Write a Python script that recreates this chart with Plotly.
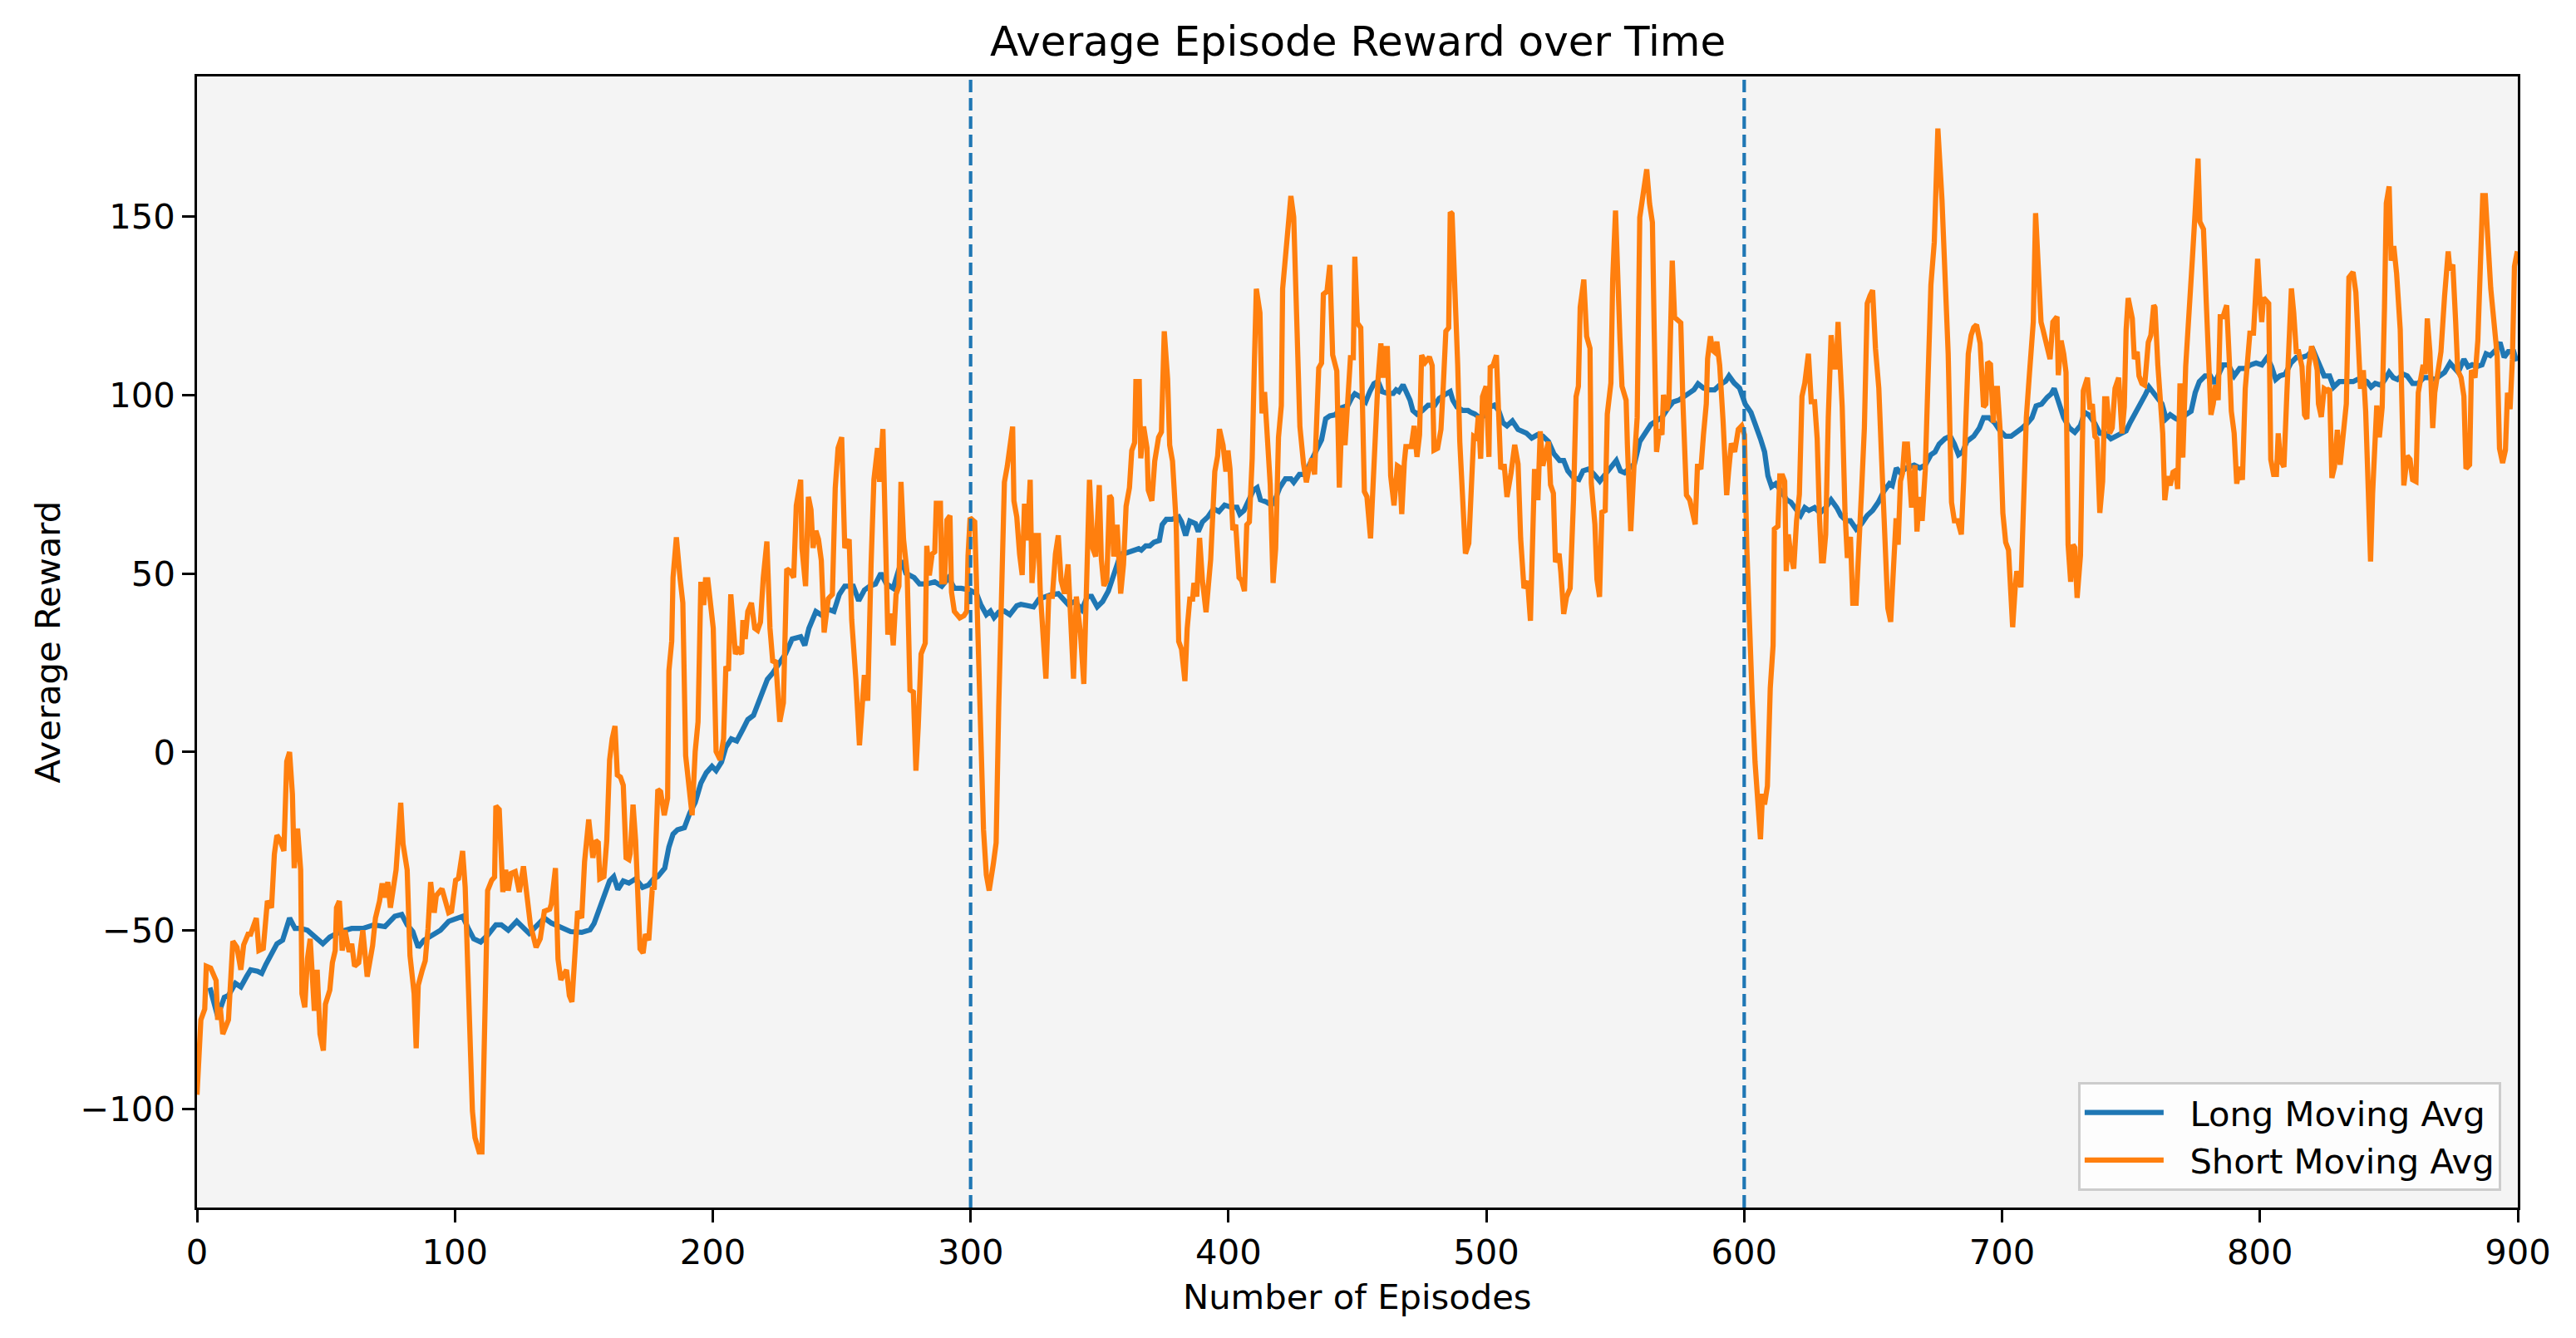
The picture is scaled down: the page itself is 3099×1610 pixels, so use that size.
import plotly.graph_objects as go

# ---------------- data ----------------
short_episodes = [
    0, 1.5, 3, 3.6, 5.3, 7.4, 8, 9, 10, 12.2, 13.9, 15.5, 17, 18.1, 19.8, 20.8, 23, 24, 25.7, 27.3,
    28.9, 30, 31, 32, 33.7, 34.8, 35.9, 37, 37.7, 39, 40.2, 40.7, 41.8, 42.8, 43.9, 45, 45.5, 46.6,
    47.7, 49, 49.8, 51.5, 52.5, 53.6, 54.1, 55.2, 56.3, 57.4, 59, 60, 61.1, 62.7, 64.3, 66, 68.1,
    69.2, 70.8, 71.8, 72.9, 74, 75, 77.2, 78.3, 79, 79.9, 81.5, 82.6, 84.2, 85, 85.8, 87.4, 88.5,
    89.6, 90.6, 92, 92.8, 95, 96.5, 97.6, 98.7, 100.3, 101.4, 103, 104, 105.2, 106.8, 107.8, 109.4,
    110.5, 111.6, 112.7, 114.3, 115.4, 115.9, 117.2, 118.6, 119.7, 120.7, 121.8, 123.4, 125, 126.6,
    128.2, 129.3, 131.5, 133.1, 134.7, 136.8, 137.4, 139, 140, 141.1, 143.3, 144.4, 145.4, 146.5,
    147.6, 149.2,
    150.3, 151.9, 153.5, 154.6, 155.6, 156.2, 157.8, 158.9, 160, 161, 162.1, 163, 164.2, 165.3,
    166.4, 167.5, 168, 169.1, 170.1, 171.8, 173, 173.9, 175.2, 176.6, 177.3, 178.7, 179.8, 181.2,
    182.5, 183, 184.1, 184.6, 185.9, 187.3, 188.4, 189.5, 190.6, 192, 193.2, 194.3, 195.4, 196.5,
    197.2, 198.1, 200.2, 201.3, 202.9, 204.2, 205.1, 206.1, 207, 208.8, 209.9, 211.2, 211.7, 212.6,
    213.6, 215, 216.3, 217.4, 218.5, 219.6, 221, 222.2, 223.3, 224.4, 226, 227.4, 228.7, 230, 231.4,
    232.4, 234.1, 234.6, 236, 237.1, 238.1, 238.9, 240, 241, 242.1, 243.2, 244.8, 246.4, 247.5,
    248.6, 250, 251.2, 252.9, 253.9, 255.5, 256.9, 258.8, 260.1, 261.4, 262.5, 263.9, 264.7, 266,
    266.8, 267.9, 269, 270, 271.1, 272.2, 273, 274, 275.4, 276.5, 277.8, 278.8, 279.7, 280.8, 282.4,
    283, 284, 285.1, 286.1, 286.7, 288.3, 288.8, 289.9, 290.8, 292, 292.6, 293.7, 295.8, 297.4,
    298.5, 299, 299.8,
    301.6, 302.9, 304, 305, 306.1, 307.2, 308.8, 309.9, 310.9, 312, 313.1, 314.2, 315.2, 316.3,
    316.8, 317.9, 319, 320, 320.9, 322, 323.1, 323.8, 325.2, 326.3, 327, 328.1, 329.2, 330.3, 331.7,
    332.9, 334, 335.1, 336.4, 337.8, 338.9, 339.9, 341, 342.6, 343.9, 345, 346.1, 347.4, 348.5,
    349.9, 350.7, 351.7, 352.8, 353.9, 354.6, 355.5, 356.8, 358.2, 359.3, 360.3, 361.6, 362.5,
    363.6, 364.1, 365.4, 366, 367.1, 368.4, 368.9, 370.3, 371.4, 372.9, 374, 375.1, 376.4, 377.2,
    378.3, 379.7, 380.7, 381.8, 383.1, 384, 385, 386.1, 386.6, 387.7, 388.8, 389.9, 391.3, 393.1,
    394.7, 395.8, 396.5, 397.9, 399, 399.8, 400.6, 401.7, 402.8, 404.1, 405.1, 406.2, 407.1, 408.1,
    409.2, 410.1, 410.8, 412.2, 413, 414, 415.1, 416.2, 417.3, 418.3, 419.4, 420.5, 421, 422.1,
    423.2, 424.2, 425.3, 426.4, 427.7, 429.1, 430.2, 431.2, 432.3, 433.4, 433.9, 435, 436.1, 436.8,
    438.2, 439.3, 440.4, 442, 443, 444.1, 445.2, 446.3, 447.3, 448.4, 449, 450,
    451.3, 452.7, 453.7, 455.1, 455.9, 457, 458, 459.1, 459.9, 460.7, 461.6, 462.3, 462.9, 464.2,
    465.5, 466.3, 467.2, 468.2, 468.8, 469.8, 470.9, 472, 473.1, 474.1, 474.9, 476.3, 477.9, 479,
    479.7, 481.1, 482.4, 483.3, 484.3, 485.4, 486, 486.7, 487.8, 488.9, 489.7, 490.8, 491.9, 493.2,
    494, 495.1, 496.2, 496.9, 497.8, 498.5, 499.9, 501, 501.5, 502.6, 503.9, 504.8, 505.6, 506.9,
    508, 509.6, 511, 512.3, 513.3, 514.6, 516, 517.1, 518.2, 518.7, 520, 520.9, 521.9, 523, 524.1,
    524.9, 526, 526.8, 528.2, 528.9, 530, 531.1, 532.5, 533.8, 534.8, 535.7, 536.4, 537.8, 538.9,
    540.2, 540.7, 542.1, 542.9, 543.9, 544.8, 546.1, 546.9, 548.3, 549, 550.1, 551, 551.8, 552.6,
    554.2, 554.7, 556, 557.2, 558.5, 559.5, 560.6, 562.2, 563.3, 564.4, 565.1, 566, 567.1, 568.1,
    568.7, 570, 570.8, 571.4, 572.1, 573, 574, 575.4, 576.2, 576.7, 577.6, 578.9, 580, 581, 581.9,
    583.2, 584.2, 585.3, 585.8, 586.9, 587.7, 588.5, 589.4, 590.5, 591.8, 593.2, 593.9, 595, 596.3,
    597.7, 599, 600.1,
    601, 602, 603.1, 604.2, 604.9, 606.3, 607.1, 607.9, 609, 610.1, 611.2, 611.7, 613.1, 613.8,
    614.9, 615.7, 616.3, 617.1, 618.1, 619.2, 620.3, 621.4, 622.4, 623.5, 624.9, 626, 627.3, 628.3,
    629.2, 630, 630.7, 631.6, 632.6, 633.7, 634.8, 635.7, 636.4, 638, 639.1, 640, 641.2, 642.1,
    643.4, 644.5, 645.5, 646.6, 647.7, 648.8, 649.8, 650.9, 652.2, 653.3, 654.3, 655.7, 656.8,
    657.9, 658.9, 659.7, 660.6, 661.4, 662.2, 663.3, 664.9, 666.2, 667, 667.9, 669, 670.2, 671.3,
    672.4, 673.7, 675.1, 676.7, 678, 679.1, 680.4, 681.5, 682.8, 684.2, 685.1, 686.1, 686.9, 688,
    689, 690.1, 691.5, 692.8, 693.7, 694.4, 695.5, 696.6, 697.3, 698.2, 699.2, 700.3, 701.4, 702.5,
    703.5, 704.1, 705.1, 705.7, 707.3, 708.4, 709.4, 710.5, 712.1, 713, 714.3, 715.1, 715.9, 717.3,
    718.6, 719.7, 721.3, 721.8, 722.9, 723.9, 724.8, 725.6, 726.6, 727.5, 728.2, 729.1, 730.4,
    731.5, 733.1, 734.1, 735, 736, 736.8, 737.9, 739, 739.8, 740.6, 741.7, 742.7, 743.8, 745.2,
    746.5, 747.4, 748.1, 748.9,
    750.5, 751.3, 752.4, 753.1, 754.2, 755.3, 756.7, 757.7, 758.8, 759.3, 760.4, 761.5, 762.3,
    763.1, 764.2, 765.2, 766.3, 767.4, 768.1, 769, 770.1, 771.2, 772.2, 773.8, 774.9, 776, 776.7,
    778.1, 779.2, 780.3, 781, 781.9, 782.8, 783.8, 784.6, 785.7, 787.1, 788.1, 788.9, 790, 791,
    792.1, 793.2, 794.3, 795.3, 796.1, 797.5, 798.2, 799.1, 800, 800.7, 801.4, 802.3, 803.4, 804.2,
    805.3, 806.4, 807.1, 807.9, 809.3, 810.4, 811.4, 812.2, 813.1, 814.1, 815, 816.3, 817.3, 818.2,
    818.9, 820, 821.1, 822.2, 822.7, 823.8, 824.9, 825.9, 827, 827.9, 828.9, 830, 831.1, 832.4,
    833.5, 834.5, 836.1, 837.2, 838.3, 839, 840.1, 841, 842, 842.9, 843.7, 844.5, 845.3, 846.3,
    847.4, 848.3, 849, 850.1, 850.9, 851.9, 853, 854.4, 855.8, 857.1, 858.2, 859.2, 860.5, 861.4,
    862.5, 863.3, 864.1, 864.9, 865.9, 867, 867.8, 868.9, 870.2, 871.6, 873, 873.7, 874.8, 875.9,
    876.7, 878, 879.1, 879.9, 881.3, 882, 883.4, 884.5, 885.5, 886.4, 887.4, 888.2, 889.5, 890.9,
    892, 892.9, 894.1, 895.2, 896, 897, 897.9, 898.7, 899.8,
]

short_reward = [
    -96, -75, -72, -60, -60.5, -64, -75, -71.5, -79, -75, -53, -54.7, -61, -54, -51, -51, -46.5,
    -55.6, -55, -41.7, -43.6, -28.6, -23.3, -24.3, -27.7, -2.6, 0, -11.8, -32.5, -21.4, -33, -67.7,
    -71.5, -58, -52.3, -67.7, -72.5, -61, -79, -83.6, -70.6, -66.7, -59, -55.6, -43.6, -41.7,
    -55.6, -49.9, -56, -53.7, -60, -59, -49.9, -62.9, -54.2, -46.5, -41.7, -36.8, -40.7, -36.4,
    -43.6, -33, -23.3, -14.2, -25.7, -33, -57, -67.7, -83, -65.3, -61, -58.5, -49.4, -36.4, -45,
    -40.2, -38.3, -42.6, -45, -44.6, -35.9, -35.4, -27.7, -37.8, -62, -100.5, -108, -112, -112,
    -81, -38.8, -35.9, -35, -15.1, -16.1, -39.2, -33, -38.8, -34, -33.5, -39.2, -32, -40.7, -48.4,
    -54.7, -52.3, -44.6, -44, -42.6, -32.5, -58, -63.8, -61, -68.2, -70, -55.2, -44.6, -46.5,
    -30.7, -18.9, -29.6, -24.8, -25.4, -35.5, -34.9, -24.8, -2.2, 3.7, 7.3, -6.4, -7, -9.3, -29.6,
    -30.1, -28.4, -14.7, -24.8, -55.1, -56.3, -51, -52.7, -37.9, -38.5, -10.5, -11.1, -17.7,
    -12.9, 22.8, 31.1, 48.9, 60.2, 48.9, 41.8, -1, -8.2, -17.7, 0.2, 8.5, 47.7, 41.2, 48.3, 48.3,
    34.7, 0.2, -2.2, 3.7, 24, 22.8, 44.2, 27.5, 28.7, 27.5, 37, 31.7, 39.4, 41.8, 34.7, 34.1, 36.4,
    48.9, 59, 34.7, 25.1, 25.7, 8.5, 13.8, 51.3, 50.7, 48.9, 69.1, 76.3, 57.2, 46.5, 71.5, 67.9,
    57.2, 62, 59.6, 53.7, 33.5, 43, 44.2, 73.9, 85.2, 88.2, 57.2, 59.6, 37, 20.4, 1.9, 21.6, 14.4,
    52.5, 76.3, 85.2, 75.7, 90.5, 60.8, 32.9, 38.8, 29.9, 44.2, 46.5, 75.7, 59.6, 50.1, 17.4, 16.8,
    -5.2, 7.3, 27.5, 30.5, 57.8, 49.5, 55.5, 56.1, 69.7, 69.7, 47.7, 47.7, 65, 66.2, 44.8, 39.4,
    37.6, 38.2, 39.4, 54.9, 65.6,
    64.5, 34.7, 12.5, -21.7, -34.4, -38.8, -31.4, -25.4, 12.5, 46.6, 75.6, 80, 86, 91.2, 70.4,
    65.9, 55.5, 49.6, 69.6, 59.3, 76.3, 47.4, 60.7, 60.7, 45.1, 34.7, 20.6, 43.6, 43.6, 55.5, 60.7,
    48.1, 44.4, 52.6, 37.7, 20.6, 43.6, 33.3, 19.1, 49.6, 76.3, 57, 54.8, 74.8, 54, 46.6, 48.1,
    71.9, 71.1, 54.8, 63.7, 44.4, 52.6, 68.9, 74.1, 84.5, 86.7, 103.8, 103.8, 82.3, 91.2, 85.2,
    73.4, 70.4, 81.5, 88.2, 89.7, 117.9, 104.5, 86, 81.5, 64.5, 31, 28.8, 19.9, 34.7, 42.9, 42.9,
    47.4, 43.6, 60, 48.1, 39.2, 54, 78.6, 83, 90.5, 86, 78.6, 84.5, 79.3, 62.2, 63.7, 48.9, 48.1,
    45.1, 63.7, 64.5, 82.3, 110.5, 129.8, 123.1, 94.9, 100.9, 85.2, 74.9, 47.4, 57, 88.2, 97.1,
    129.8, 138.8, 146.9, 155.8, 149.9, 126.9, 91.2, 80.8, 75.6, 79.3, 82.3, 77.8, 91.2, 107.6, 109,
    128.3, 129.1, 136.5, 111.3, 106.8, 74.1, 96.4, 86, 102.3, 110.5, 110.5, 138.8, 120.2,
    118.9, 73, 71.5, 59.9, 71.5, 92.8, 104.4, 114.5, 104.9, 113.1, 113.1, 95.7, 77.4, 69.1, 80.2,
    79.8, 66.7, 81.2, 85.6, 85.6, 85.6, 91.4, 82.7, 88.9, 111.2, 109.2, 110.7, 108.3, 84.6, 85.1,
    90.4, 102.5, 117.9, 118.9, 151.3, 150.8, 132.4, 108.3, 87, 73.5, 55.6, 58.5, 74.4, 88.5, 88,
    94.3, 82.2, 99.6, 102.5, 82.7, 107.8, 108.3, 111.2, 88.9, 79.3, 80.7, 71.5, 78.3, 86.1, 80.7,
    59.9, 45.9, 47.9, 36.8, 59.9, 79.3, 70.6, 89.9, 80.2, 84.1, 87, 74.9, 72.5, 53.2, 55.6, 50.3,
    38.7, 43.5, 45.9, 70.6, 99.6, 102.5, 124.7, 132.4, 116.5, 113.1, 75.4, 63.8, 48.4, 43.5, 67.2,
    67.7, 94.7, 103.4, 132.4, 151.7, 125.7, 116, 102.5, 98.6, 86.1, 61.9, 79.3, 93.8, 149.8, 155.6,
    163.3, 153.7, 148.4, 117.9, 84.1, 90.4, 88.9, 100.1, 95.7, 98.6, 120.8, 137.7, 121.8, 121.3,
    120.3, 98.6, 84.1, 72, 70.6, 66.7, 63.8, 80.7, 79.3, 88.9, 97.6, 110.2, 116.5, 112.6, 112.1,
    115, 108.3, 92.8, 72, 78.3, 86.5, 84.1, 90.4, 91.4, 88.9,
    57.3, 34.3, 15, -2.8, -11.7, -24.4, -11.7, -14.7, -9.5, 17.9, 29.9, 62.5, 63.3, 77.4, 77.4,
    75.9, 50.7, 61, 55.1, 51.4, 64.8, 72.2, 99.7, 103.4, 111.6, 98.2, 98.2, 87.8, 65.5, 53.6, 53.6,
    61, 93.7, 116.8, 107.9, 107.9, 120.5, 96.7, 67, 54.4, 60.3, 41.7, 41.7, 55.1, 73, 90.8, 125.7,
    127.9, 129.4, 113.1, 101.9, 81.9, 62.5, 40.3, 36.5, 50.7, 65.5, 58.1, 75.9, 78.2, 86.3, 86.3,
    68.5, 80.4, 61.8, 71.5, 64.8, 78.9, 107.1, 130.9, 142.8, 174.7, 154.7, 130.9, 111.6, 70, 64.8,
    64.8, 61, 75.9, 93.7, 111.6, 116.8, 119, 119.7, 114.5, 96.7, 97.5, 109.3, 108.6, 92.3, 101.9,
    101.9, 90.8, 67, 58.8, 56.6, 41.7, 35, 46.2, 50.7, 46.2, 75.9, 93.7, 104.9, 120.5, 151, 128.7,
    120.5, 118.3, 113.1, 110.1, 120.5, 122, 105.6, 115.3, 111.6, 106.4, 58.1, 47.7, 58.1, 57.3,
    43.2, 55.1, 101.2, 104.9, 96, 97.5, 88.5, 87.8, 67, 75.9, 99, 99, 89.3, 90.8, 101.9, 104.9,
    89.3, 96.7, 118.3, 127.2,
    121.5, 110.1, 112.2, 105.4, 103.3, 102.8, 114.8, 116.8, 125.2, 124.6, 108.5, 97.6, 89.3, 70.6,
    77.3, 74.7, 78.4, 78.9, 73.7, 103.3, 82.5, 108, 118.4, 138.2, 151.7, 166.3, 148.6, 146.5,
    125.7, 108, 94.5, 97.6, 102.8, 98.6, 122, 122, 125.2, 110.1, 95.5, 89.3, 75.2, 79.9, 76.3,
    101.8, 111.1, 117.4, 117.4, 128.8, 138.2, 126.7, 120.5, 127.3, 126.7, 125.7, 82, 77.8, 77.8,
    89.3, 82, 79.9, 99.7, 122.6, 129.9, 123.1, 112.2, 112.2, 108, 94.5, 93.4, 108, 113.7, 111.1,
    107, 97.6, 93.9, 101.8, 101.3, 101.8, 76.8, 79.9, 90.3, 80.5, 91.4, 97.6, 133, 134.5, 128.8,
    115.3, 101.8, 107, 95.5, 73.7, 53.4, 72.6, 90.3, 97.1, 88.2, 96.6, 124.6, 153.8, 158.5, 137.7,
    141.8, 134, 118.4, 74.7, 83, 82, 76.3, 75.8, 100.7, 105.4, 108.5, 105.9, 121.5, 112.2, 90.8,
    100.7, 107, 112.2, 127.8, 140.3, 135, 136.6, 120.5, 107, 104.9, 99.7, 79.4, 80.5, 107, 104.9,
    115.3, 134, 155.9, 155.9, 144.4, 129.9, 119.4, 111.1, 85.1, 81, 84.6, 100.7, 96.1, 110.1,
    136.1, 140.3,
]

long_episodes = [
    5, 8, 10.6, 12.2, 14.9, 17, 19.2, 20.8, 23.5, 25.1, 26.7, 28.9, 31, 33.2, 34.8, 35.9, 38, 40.2,
    42.8, 45.5, 48.8, 51.5, 55.7, 60, 64.3, 68.6, 72.9, 76.7, 79.4, 81.5, 83.7, 85.8, 88, 91.2,
    94.4, 97.6, 100.9, 103, 105.2, 107.3, 110, 112.7, 115.9, 118, 120.7, 124, 128.8, 132, 134.7,
    137.4, 141.7, 144.9, 149.2,
    152.4, 154, 155.6, 157.8, 160, 161.6, 163.2, 165.3, 167.5, 170.1, 171.8, 172.8, 175, 177.1,
    178.7, 181.4, 183, 184.6, 186.3, 189, 191.1, 193.2, 195.4, 197.5, 199.7, 201.3, 203.4, 205.1,
    207.2, 209.3, 211.5, 213.6, 215.8, 218, 219.6, 221.2, 223.3, 226, 228.2, 230.8, 234.1, 235.7,
    237.3, 240, 242.6, 244.8, 247, 249.1, 251.2, 254.5, 256.6, 258.8, 260.9, 263.1, 265.2, 267.4,
    270, 271.7, 273.3, 274.9, 278.1, 280.2, 282.9, 286.1, 288.8, 291.5, 293.7, 296.4, 299.6,
    302.3, 303.9, 306.1, 307.7, 309.1, 310.9, 313.1, 315.2, 317.9, 319.5, 321.7, 324.4, 326.5,
    328.6, 330.8, 334, 336.2, 337.8, 340.5, 343.1, 345.3, 346.9, 349.1, 351.2, 353.4, 355, 356.6,
    358.2, 360.3, 363, 365.2, 366.2, 367.9, 369.5, 371.1, 373.2, 374.3, 375.9, 378.1, 380.7, 381.8,
    383.4, 385, 387.2, 388.3, 389.9, 392, 394.2, 396.3, 398.5, 401.2, 403.3, 404.4, 406, 408.1,
    409.7, 411.1, 412.4, 414.6, 416.7, 418.3, 419.9, 422.1, 424.2, 425.3, 427.5, 429.6, 431.8,
    434.5, 436.1, 437.7, 439.3, 441.4, 443.6, 446.3, 447.9, 449,
    451, 453.2, 454.8, 456.4, 458, 459.6, 461.8, 463.9, 465, 466.1, 467.7, 468.8, 470.4, 471.5,
    473.1, 475.2, 477.4, 480, 481.7, 483.8, 486, 487, 488.6, 490.8, 492.9, 494, 495.6, 497.2, 499.4,
    501.5, 503.1, 504.8, 506.4, 508, 510.1, 512.3, 515.5, 517.6, 519.8, 521.9, 524.1, 526.2, 528.4,
    530, 531.6, 533.8, 535.9, 537.5, 539.7, 541.8, 544, 546.1, 548.3, 550.4, 552, 553.6, 555.8,
    557.4, 559.5, 561.7, 563.8, 566, 568.1, 570.3, 572.4, 574.6, 576.7, 578.9, 580.5, 582.1, 584.2,
    586.4, 588.5, 590.7, 592.8, 594.1, 596.1, 598.2,
    600.4, 602.6, 604.7, 606.3, 607.9, 609.2, 610.6, 612.2, 614.4, 616.5, 618.1, 619.8, 621.9,
    623.5, 625.1, 627.3, 629.4, 631.6, 633.7, 635.9, 637.5, 639.6, 641.2, 643.4, 645.5, 647.7,
    649.8, 652, 654.1, 656.3, 657.4, 659, 660.6, 662.7, 665.9, 668.1, 670.2, 672.4, 674, 675.6,
    677.8, 679.9, 681.5, 683.1, 684.7, 686.4, 689, 691.2, 692.8, 694.9, 697.1, 699.2, 701.4, 703.5,
    705.7, 707.8, 710, 711.6, 713.2, 715.3, 717.5, 719.1, 720.2, 721.3, 722.3, 723.9, 726.1, 728.2,
    730.4, 732, 733.6, 735.8, 737.9, 740.1, 742.2, 744.4, 746.5, 748.1,
    749.7, 751.3, 752.9, 754.5, 755.6, 757, 758.3, 760.4, 762, 763.6, 765.2, 767.4, 769, 771.2,
    773.3, 774.9, 776.5, 778.7, 780.8, 782.4, 784, 785.7, 787.8, 790, 792.1, 794.3, 796.4, 798.5,
    800.7, 802.8, 804.5, 806.1, 807.7, 809.8, 812, 814.1, 816.3, 818.4, 820.6, 822.7, 824.9, 827,
    828.6, 830.8, 833.5, 836.1, 837.8, 839.9, 841.5, 843.1, 844.7, 846.9, 848.5, 850.1, 851.7,
    853.3, 855.5, 857.1, 859.2, 861.4, 863.5, 865.7, 867.8, 870, 871.6, 873.7, 875.3, 876.9, 879.1,
    880.7, 882.3, 884, 886.1, 887.7, 889.3, 891.5, 893.1, 894.7, 896.3, 898.4, 899.5,
]

long_reward = [
    -66, -74, -68.7, -68.2, -64.8, -65.8, -62.9, -61, -61.4, -62, -59.5, -56.6, -53.7, -52.7,
    -48.4, -46.5, -49.4, -49.4, -49.9, -51.8, -53.7, -51.8, -50.3, -49.4, -49.4, -48.4, -48.9, -46,
    -45.5, -48.4, -50.3, -54.7, -52.7, -51.3, -49.9, -47.4, -46.5, -46, -49.4, -52.3, -53.2, -51.3,
    -48.4, -48.4, -49.9, -47.4, -50.8, -48.4, -46.5, -47.9, -49.4, -50.3, -50.5,
    -49.8, -48, -45, -40.8, -36.1, -34.9, -38.5, -36.1, -36.7, -35.5, -36.7, -37.9, -37.3, -35.5,
    -34.9, -32.5, -26.6, -23, -21.8, -21.2, -17.1, -14.1, -8.7, -5.8, -4, -5.2, -2.8, 1.4, 3.7, 3.1,
    6.1, 9.1, 10.3, 14.4, 16.8, 20.4, 22.2, 25.1, 27.5, 31.7, 32.3, 29.9, 34.7, 39.4, 38.2, 40,
    39.4, 44.2, 46.5, 46.5, 42.4, 45.4, 46.5, 47.1, 50.1, 47.1, 45.9, 50.1, 53.7, 50.1, 48.9, 47.1,
    47.1, 47.7, 46.5, 48.9, 45.9, 45.9, 45.4,
    44.4, 41.4, 38.5, 39.5, 37.7, 39.2, 39.5, 38.5, 41, 41.4, 41.1, 40.7, 42.9, 43.6, 44, 44.4,
    42.5, 41.4, 42.2, 39.9, 43.6, 43.6, 40.7, 42.2, 45.1, 48.9, 51.8, 55.5, 55.8, 56.3, 57, 56.6,
    57.8, 57.8, 58.8, 59.3, 63.7, 65.2, 65.2, 65.9, 64.5, 60.7, 64.7, 64, 61.8, 64.5, 65.9, 68.2,
    67.4, 69.2, 68.6, 68.6, 66.7, 67.7, 70.7, 73.4, 74.1, 70.7, 70.1, 69.2, 71.1, 74.1, 76.6, 76.6,
    75.6, 77.8, 77.8, 81.5, 85.2, 87.5, 93.4, 94.2, 94.5, 96.4, 97.1, 99.4, 100.4,
    99.6, 98.1, 101, 103.2, 103.9, 101, 100.5, 100.5, 101.5, 101, 102.9, 101, 98.6, 95.7, 94.7,
    95.7, 97.2, 97.2, 99.1, 100.1, 101, 98.6, 96.7, 95.7, 95.7, 95.2, 94.7, 93.8, 94.3, 96.7, 97.2,
    95.7, 92.3, 91.4, 92.8, 90.4, 89.4, 88, 88.9, 88.5, 87, 83.6, 81.7, 81.7, 78.8, 76.9, 76.4,
    78.8, 79.3, 77.8, 75.9, 77.8, 79.8, 81.7, 78.8, 78.3, 79.8, 80.7, 87, 89.4, 91.8, 92.8, 93.8,
    96.2, 98.1, 98.6, 99.6, 101, 101.5, 103.2, 102, 101.5, 101.5, 103, 103.9, 105.4, 103.4, 102,
    97.5, 95.2, 91.5, 87.8, 84.1, 77.4, 74.4, 75.2, 73, 70.7, 70, 68.5, 66.3, 68.5, 67.7, 68.5, 67,
    68.5, 70.7, 68.5, 66.3, 64.8, 64.8, 62.5, 64, 66.3, 67.7, 70, 73, 75.2, 74.7, 79.6, 78.2, 79.6,
    80.4, 79.6, 80.4, 83.3, 84.1, 86.3, 87.8, 88.5, 86.3, 83.3, 84.1, 87.1, 88.5, 90.8, 93.7, 93.7,
    92.3, 90, 88.5, 88.5, 89.6, 90.8, 92.3, 93.7, 97, 97.5, 99.4, 100.4, 101.9, 99.7, 96.7, 93.7,
    90.8, 89.6, 91.5, 95.2, 94.5, 92.3, 89.3, 89.3, 87.8, 88.5, 89.3, 90,
    92.4, 94.5, 96.1, 98.6, 100.2, 102.3, 101.2, 99.2, 97.6, 93.4, 94.5, 93.4, 92.9, 94.5, 95.5,
    100.7, 103.8, 105.4, 105.4, 103.3, 105.9, 108.5, 108.5, 105.4, 107.5, 107.5, 108.5, 109, 108.5,
    110.6, 108, 104.4, 105.4, 105.9, 109, 110.6, 110.6, 111.1, 112.7, 109, 105.4, 105.4, 102.3,
    103.8, 103.8, 103.8, 104.4, 104.4, 103.8, 102.3, 103.3, 102.8, 104.4, 106.4, 104.9, 104.4,
    105.9, 105.4, 103.3, 103.3, 104.9, 104.9, 104.4, 105.4, 106.4, 109, 107.5, 106.4, 110.1, 108,
    108.5, 108, 108.5, 111.6, 111.1, 112.7, 114.8, 110.6, 112.2, 112.2, 109.5,
]

phase_boundaries = [300, 600]
x_ticks = [0, 100, 200, 300, 400, 500, 600, 700, 800, 900]
y_ticks = [-100, -50, 0, 50, 100, 150]

series_names = ["Long Moving Avg", "Short Moving Avg"]
title_text = "Average Episode Reward over Time"
x_label = "Number of Episodes"
y_label = "Average Reward"

# ---------------- styling ----------------
FONT = "DejaVu Sans"
TICK_PX = 41.7
TITLE_PX = 50
BLUE = "#1f77b4"
ORANGE = "#ff7f0e"
W, H = 3099, 1610
ML, MR, MT, MB = 237, 70, 92, 157
LEGEND_GAP = "\u00a0\u00a0"  # visual gap between legend handle and label

fig = go.Figure()
fig.add_trace(go.Scatter(x=long_episodes, y=long_reward, mode="lines",
                         name=LEGEND_GAP + series_names[0],
                         line=dict(color=BLUE, width=6.25)))
fig.add_trace(go.Scatter(x=short_episodes, y=short_reward, mode="lines",
                         name=LEGEND_GAP + series_names[1],
                         line=dict(color=ORANGE, width=6.25)))

for xb in phase_boundaries:
    fig.add_shape(type="line", xref="x", yref="paper", x0=xb, x1=xb, y0=0, y1=1,
                  line=dict(color=BLUE, width=4.2, dash="15px,7px"), layer="above")

axis_common = dict(
    showgrid=False, zeroline=False, showline=True, mirror=True, linecolor="black", linewidth=3.3,
    ticks="outside", ticklen=14.6, tickwidth=3.3, tickcolor="black",
    tickfont=dict(family=FONT, size=TICK_PX, color="black"),
)

fig.update_layout(
    width=W, height=H, autosize=False,
    margin=dict(l=ML, r=MR, t=MT, b=MB, pad=0),
    paper_bgcolor="white", plot_bgcolor="#f4f4f4",
    font=dict(family=FONT, size=TICK_PX, color="black"),
    xaxis=dict(range=[0, 900], tickmode="array", tickvals=x_ticks, **axis_common),
    yaxis=dict(range=[-127.6, 189.3], tickmode="array", tickvals=y_ticks, **axis_common),
    showlegend=True,
    legend=dict(x=0.9928, xanchor="right", y=0.0147, yanchor="bottom",
                bgcolor="rgba(255,255,255,0.8)", bordercolor="#cccccc", borderwidth=3,
                font=dict(family=FONT, size=TICK_PX, color="black"), itemwidth=95,
                tracegroupgap=0),
    annotations=[
        dict(text=title_text, xref="paper", yref="paper", x=0.5, y=1, yshift=42,
             xanchor="center", yanchor="middle", showarrow=False,
             font=dict(family=FONT, size=TITLE_PX, color="black")),
        dict(text=x_label, xref="paper", yref="paper", x=0.5, y=0, yshift=-107,
             xanchor="center", yanchor="middle", showarrow=False,
             font=dict(family=FONT, size=TICK_PX, color="black")),
        dict(text=y_label, xref="paper", yref="paper", x=0, y=0.5, xshift=-180,
             xanchor="center", yanchor="middle", showarrow=False, textangle=-90,
             font=dict(family=FONT, size=TICK_PX, color="black")),
    ],
)

fig.write_html("out.html")
